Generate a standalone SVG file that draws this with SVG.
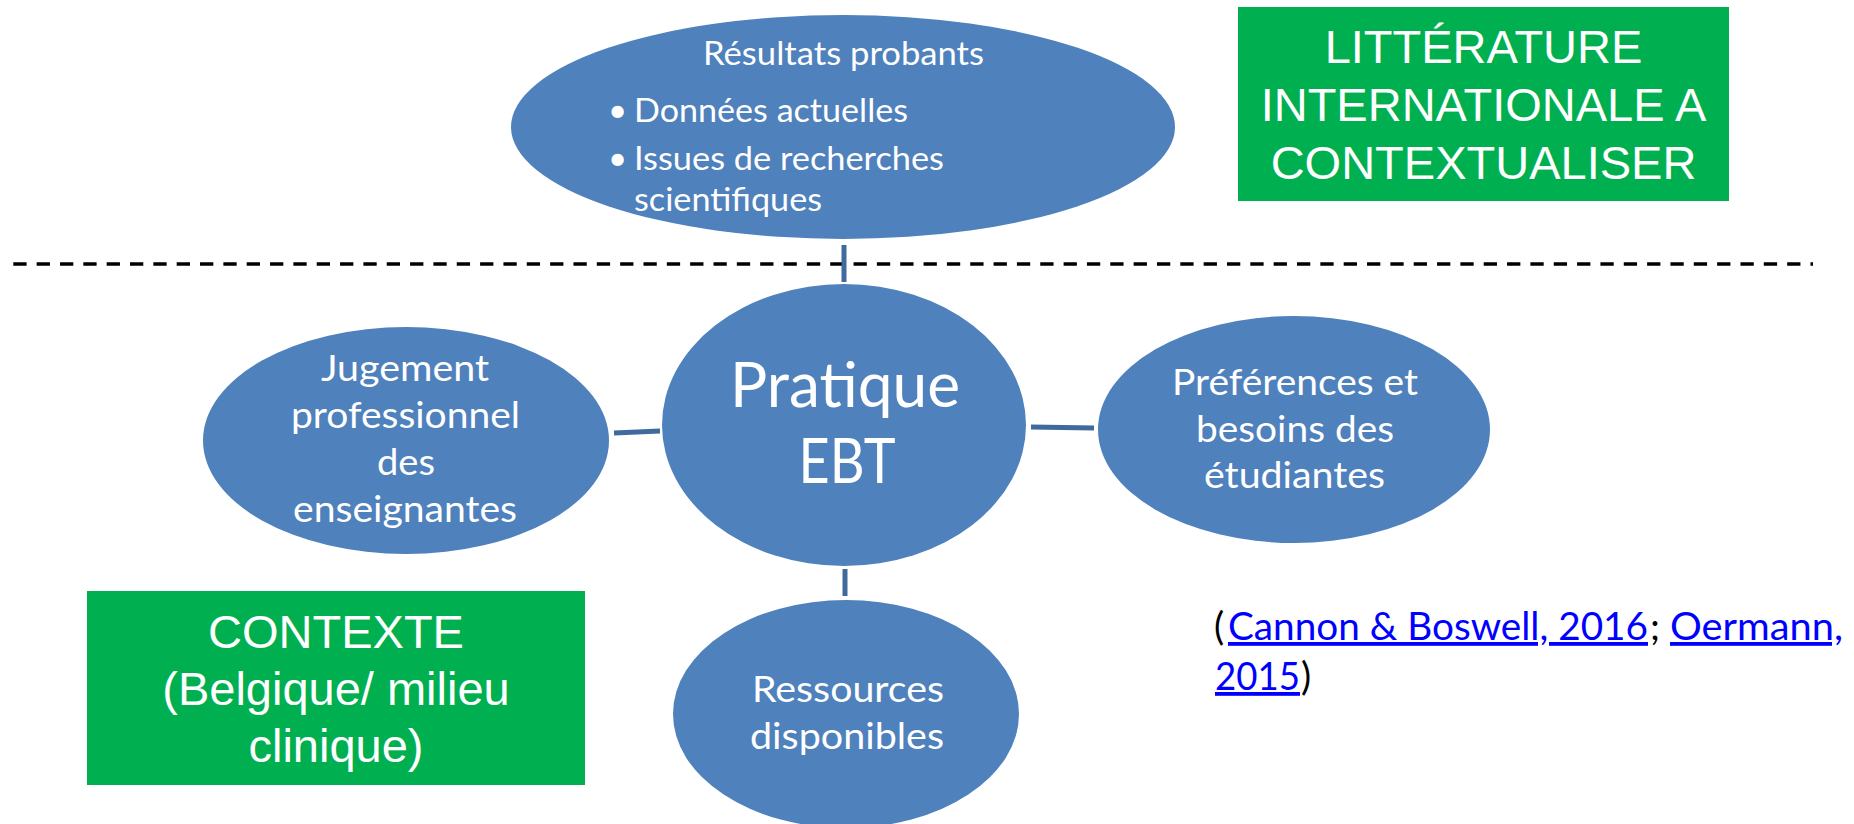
<svg xmlns="http://www.w3.org/2000/svg" width="1854" height="824" viewBox="0 0 1854 824">
<style>
.node{fill:#4F81BD}
.lbl{font-family:Lato,"Open Sans",sans-serif;fill:#FFFFFF}
.box{fill:#00B050}
.boxt{font-family:"Liberation Sans",Arial,sans-serif;font-size:47px;fill:#FFFFFF;text-anchor:middle}
.conn{stroke:#3F6A9E;stroke-width:5;fill:none}
.cite{font-family:Lato,"Open Sans",sans-serif;font-size:38px;fill:#000000}
.link{fill:#0000FF;text-decoration:underline}
</style>
<rect x="0" y="0" width="1854" height="824" fill="#FFFFFF"/>

<g id="divider">
<line x1="13.3" y1="264" x2="1813" y2="264" stroke="#000000" stroke-width="3.5" stroke-dasharray="13.3 10.04"/>
</g>

<g id="connectors">
<line class="conn" x1="844" y1="245" x2="844" y2="282"/>
<line class="conn" x1="614" y1="433" x2="660" y2="431"/>
<line class="conn" x1="1031" y1="427" x2="1094" y2="428"/>
<line class="conn" x1="845" y1="569" x2="845" y2="596"/>
</g>

<g id="node-resultats">
<ellipse class="node" cx="843" cy="127" rx="332" ry="112"/>
<text class="lbl" font-size="33" x="703" y="65" textLength="281" lengthAdjust="spacingAndGlyphs">Résultats probants</text>
<text class="lbl" font-size="33" x="608" y="122">•</text>
<text class="lbl" font-size="33" x="634" y="122" textLength="274" lengthAdjust="spacingAndGlyphs">Données actuelles</text>
<text class="lbl" font-size="33" x="608" y="170">•</text>
<text class="lbl" font-size="33" x="634" y="170" textLength="310" lengthAdjust="spacingAndGlyphs">Issues de recherches</text>
<text class="lbl" font-size="33" x="634" y="211" textLength="188" lengthAdjust="spacingAndGlyphs">scientifiques</text>
</g>

<g id="node-pratique">
<ellipse class="node" cx="844" cy="425" rx="182" ry="141"/>
<text class="lbl" font-size="61" x="845" y="407" text-anchor="middle" textLength="230" lengthAdjust="spacingAndGlyphs">Pratique</text>
<text class="lbl" font-size="61" x="847" y="483" text-anchor="middle" textLength="97" lengthAdjust="spacingAndGlyphs">EBT</text>
</g>

<g id="node-jugement">
<ellipse class="node" cx="406" cy="440.5" rx="203" ry="113.5"/>
<text class="lbl" font-size="37" x="405" y="381" text-anchor="middle" textLength="168" lengthAdjust="spacingAndGlyphs">Jugement</text>
<text class="lbl" font-size="37" x="405.5" y="428" text-anchor="middle" textLength="229" lengthAdjust="spacingAndGlyphs">professionnel</text>
<text class="lbl" font-size="37" x="406" y="475" text-anchor="middle" textLength="58" lengthAdjust="spacingAndGlyphs">des</text>
<text class="lbl" font-size="37" x="405" y="522" text-anchor="middle" textLength="224" lengthAdjust="spacingAndGlyphs">enseignantes</text>
</g>

<g id="node-preferences">
<ellipse class="node" cx="1294" cy="429.5" rx="196" ry="113.5"/>
<text class="lbl" font-size="37" x="1295" y="395" text-anchor="middle" textLength="246" lengthAdjust="spacingAndGlyphs">Préférences et</text>
<text class="lbl" font-size="37" x="1295" y="442" text-anchor="middle" textLength="198" lengthAdjust="spacingAndGlyphs">besoins des</text>
<text class="lbl" font-size="37" x="1294.5" y="488" text-anchor="middle" textLength="181" lengthAdjust="spacingAndGlyphs">étudiantes</text>
</g>

<g id="node-ressources">
<ellipse class="node" cx="846" cy="714" rx="173" ry="114"/>
<text class="lbl" font-size="37" x="848" y="702" text-anchor="middle" textLength="192" lengthAdjust="spacingAndGlyphs">Ressources</text>
<text class="lbl" font-size="37" x="847" y="749" text-anchor="middle" textLength="194" lengthAdjust="spacingAndGlyphs">disponibles</text>
</g>

<g id="box-litterature">
<rect class="box" x="1238" y="7" width="491" height="194"/>
<text class="boxt" x="1483.5" y="63">LITTÉRATURE</text>
<text class="boxt" x="1483.5" y="121">INTERNATIONALE A</text>
<text class="boxt" x="1483.5" y="179">CONTEXTUALISER</text>
</g>

<g id="box-contexte">
<rect class="box" x="87" y="591" width="498" height="194"/>
<text class="boxt" x="336" y="648">CONTEXTE</text>
<text class="boxt" x="336" y="705">(Belgique/ milieu</text>
<text class="boxt" x="336" y="762">clinique)</text>
</g>

<g id="citation">
<text class="cite" x="1214" y="640">(</text>
<text class="cite link" x="1228" y="640" textLength="420" lengthAdjust="spacingAndGlyphs">Cannon &amp; Boswell, 2016</text>
<text class="cite" x="1650" y="640">;</text>
<text class="cite link" x="1670" y="640" textLength="173" lengthAdjust="spacingAndGlyphs">Oermann,</text>
<text class="cite link" x="1215" y="690" textLength="85" lengthAdjust="spacingAndGlyphs">2015</text>
<text class="cite" x="1301" y="690">)</text>
</g>
</svg>
